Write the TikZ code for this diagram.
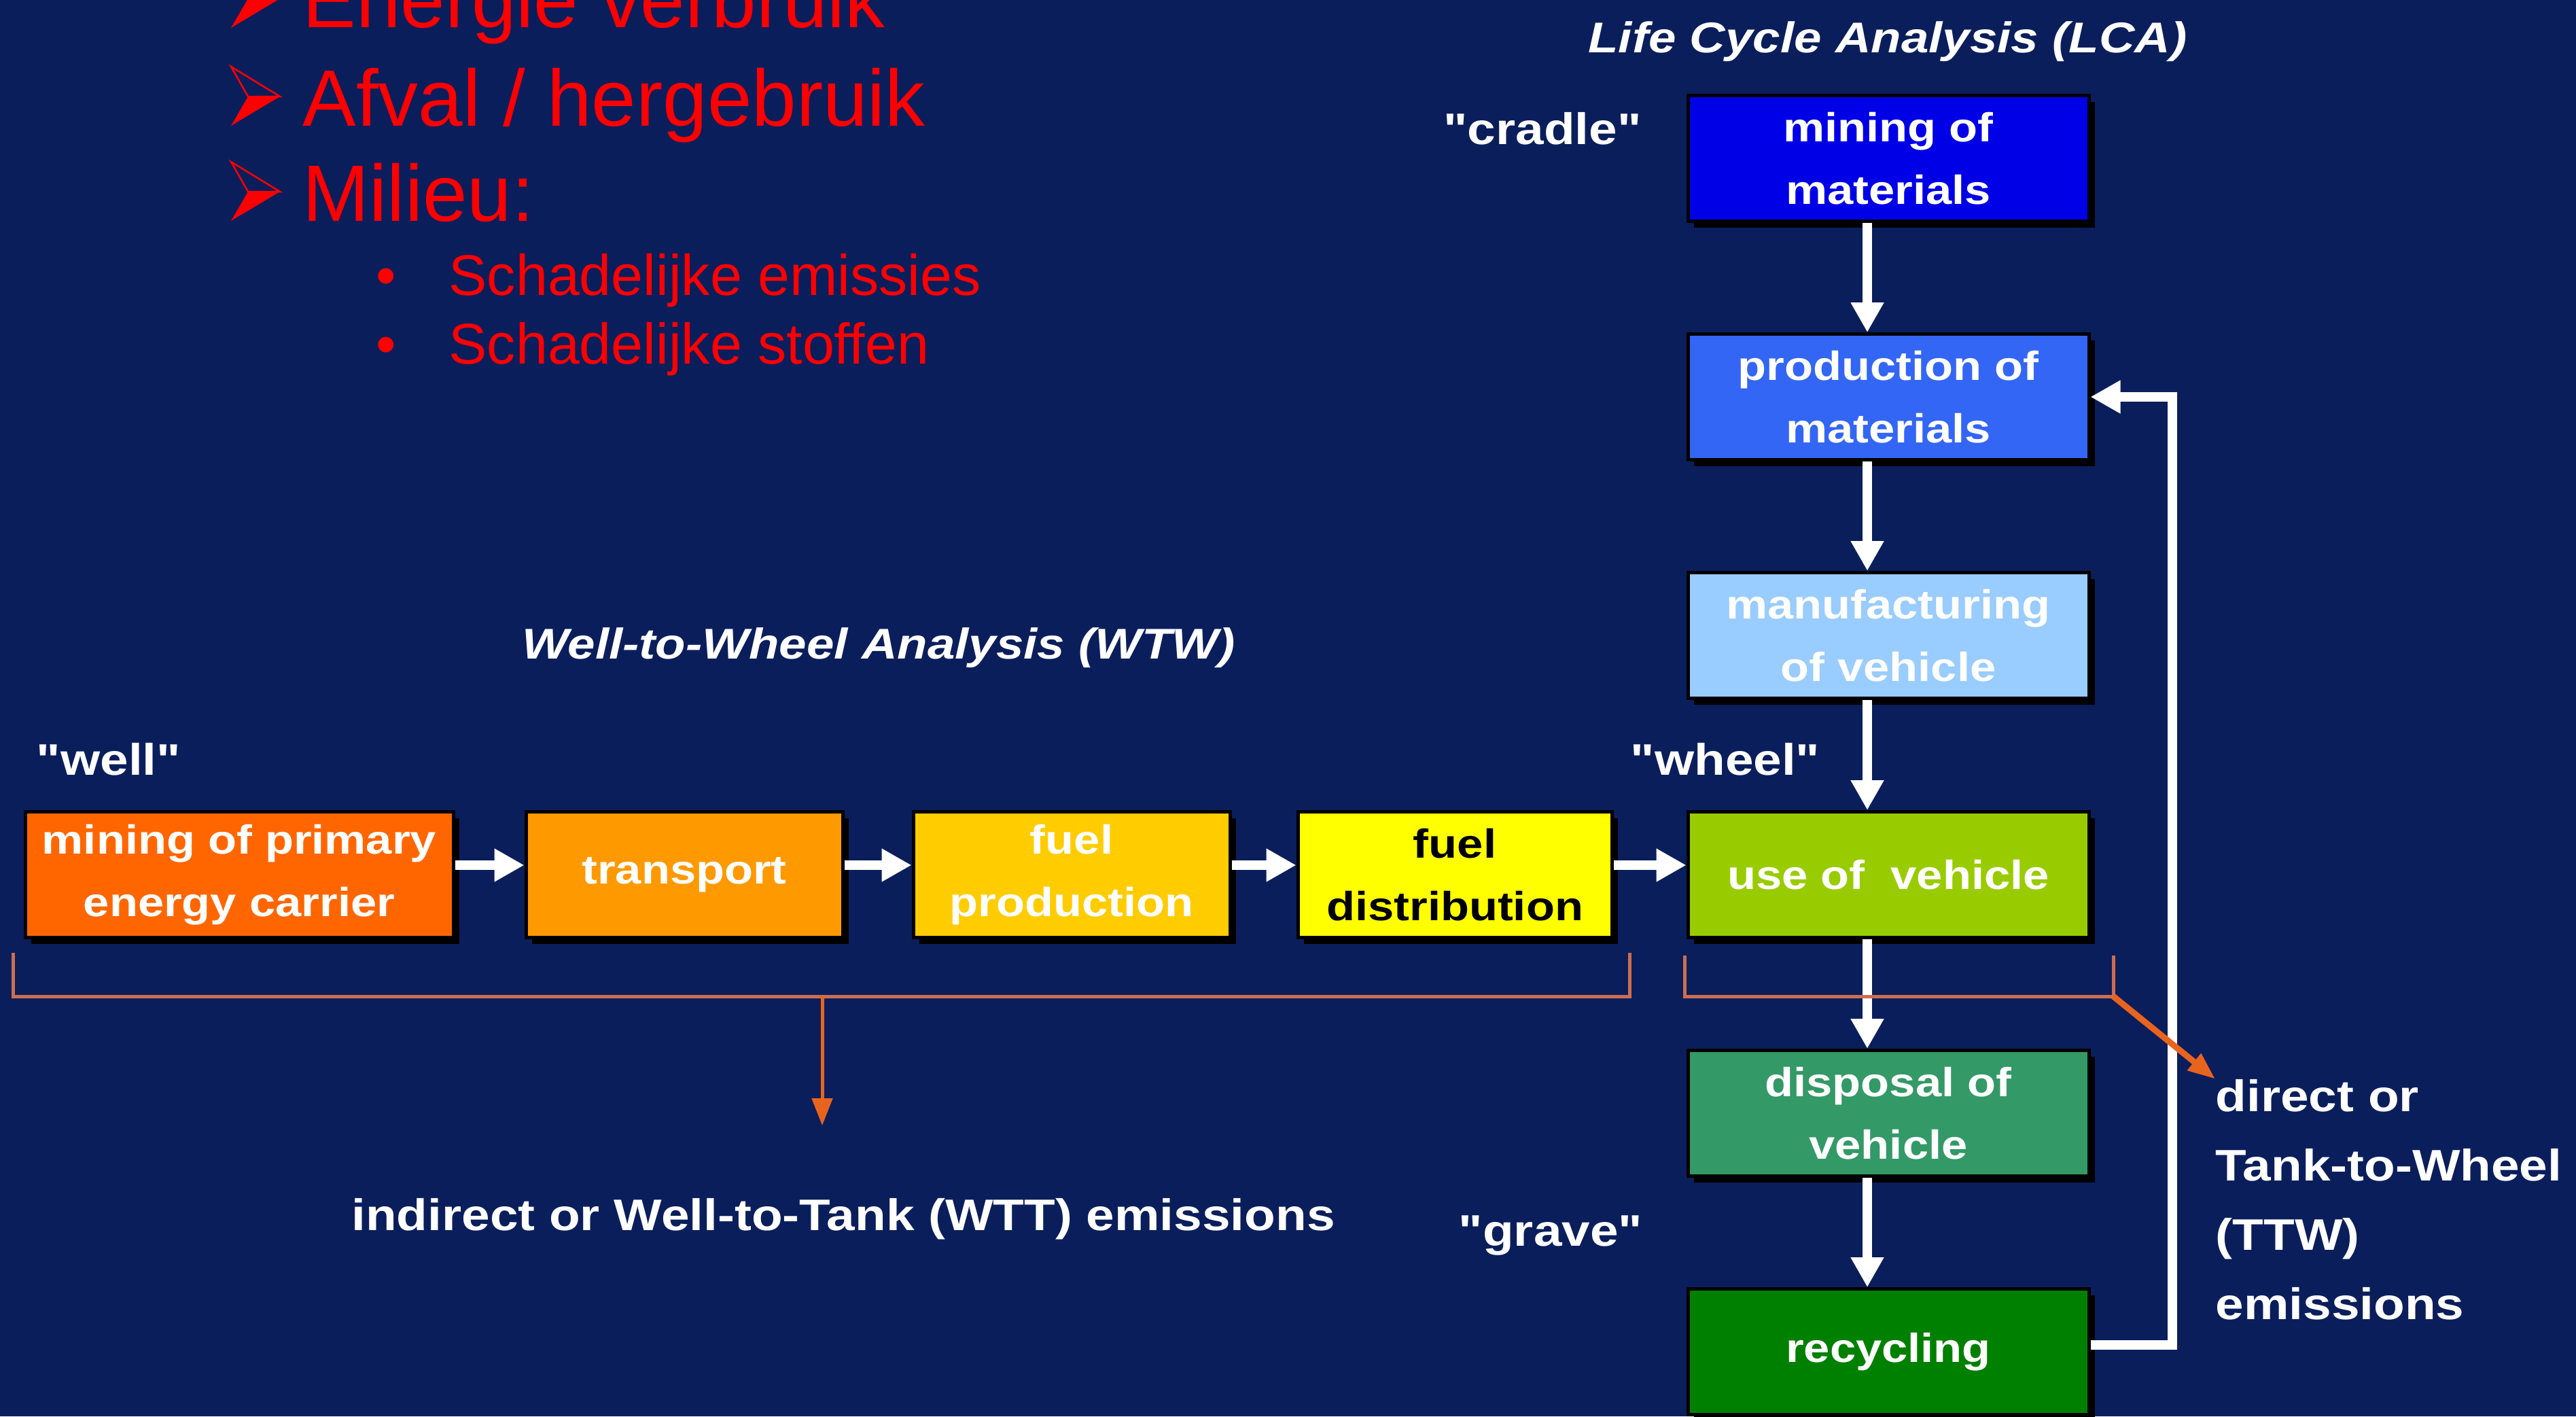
\documentclass[tikz,border=0pt]{standalone}
\usepackage{fontspec}
\setmainfont{Liberation Sans}
\newfontfamily\slidefont{Liberation Sans}[FakeStretch=1.15,Ligatures=TeXOff]
\usetikzlibrary{arrows.meta,shadows}

\definecolor{slidebg}{RGB}{11,30,92}
\definecolor{minecol}{RGB}{0,0,230}
\definecolor{prodcol}{RGB}{51,102,245}
\definecolor{manucol}{RGB}{153,204,255}
\definecolor{usecol}{RGB}{153,204,0}
\definecolor{dispcol}{RGB}{51,153,102}
\definecolor{recycol}{RGB}{0,128,0}
\definecolor{primcol}{RGB}{255,102,0}
\definecolor{transcol}{RGB}{255,153,0}
\definecolor{fuelcol}{RGB}{255,204,0}
\definecolor{distcol}{RGB}{255,255,0}
\definecolor{brackcol}{RGB}{205,110,80}
\definecolor{emisscol}{RGB}{232,100,30}

\tikzset{
  stage/.style={draw=black, line width=0.5mm, text=white, align=center,
    minimum height=1.85cm, inner sep=0pt,
    font=\slidefont\bfseries\fontsize{17}{26}\selectfont,
    drop shadow={shadow xshift=0.9mm, shadow yshift=-0.9mm, fill=black, opacity=1}},
  lcabox/.style={stage, minimum width=5.9cm},
  flow/.style={white, line width=1.4mm, -{Triangle[width=4.6mm,length=4.4mm]}},
  emission/.style={emisscol, line width=0.5mm, -{Triangle[width=3mm,length=4mm]}},
  bracket/.style={brackcol, line width=0.5mm},
  tag/.style={text=white, inner sep=0pt, font=\slidefont\bfseries\fontsize{18.5}{29}\selectfont},
  heading/.style={text=white, inner sep=0pt, font=\slidefont\bfseries\itshape\fontsize{18}{22}\selectfont},
  redline/.style={text=red, inner sep=0pt, anchor=base west, font=\fontsize{33.5}{40}\selectfont},
  redsub/.style={text=red, inner sep=0pt, anchor=base west, font=\fontsize{24}{30}\selectfont},
}

\begin{document}
\begin{tikzpicture}
\fill[slidebg] (0,0) rectangle (37.91,-20.84);
\useasboundingbox (0,0) rectangle (37.91,-20.84);
%%%%%%%%%%%%%%%%
\foreach \y in {-0.41,-1.85,-3.25} {
  \fill[red] (3.65,\y+0.43) -- (4.12,\y+0.43) -- (3.40,\y) -- cycle;
  \draw[red, line width=0.25mm] (3.40,\y+0.87) -- (4.12,\y+0.43) -- (3.65,\y+0.43) -- cycle;
}
\node[redline] (energie) at (4.45,-0.41) {Energie verbruik};
\node[redline] (afval) at (4.45,-1.85) {Afval / hergebruik};
\node[redline] (milieu) at (4.45,-3.25) {Milieu:};
\node[redsub] (emissies) at (5.53,-4.34) {\makebox[1.07cm][l]{•}Schadelijke emissies};
\node[redsub] (stoffen) at (5.53,-5.35) {\makebox[1.07cm][l]{•}Schadelijke stoffen};
%%%%%%%%%%%%%%%%
\node[heading, anchor=base] (lcatitle) at (27.78,-0.77) {Life Cycle Analysis (LCA)};
\node[lcabox, fill=minecol] (mine) at (27.79,-2.33) {mining of\\materials};
\node[lcabox, fill=prodcol] (prod) at (27.79,-5.84) {production of\\materials};
\node[lcabox, fill=manucol] (manu) at (27.79,-9.35) {manufacturing\\of vehicle};
\node[lcabox, fill=usecol] (usage) at (27.79,-12.87) {use of~~vehicle};
\node[lcabox, fill=dispcol] (disp) at (27.79,-16.38) {disposal of\\vehicle};
\node[lcabox, fill=recycol] (recyc) at (27.79,-19.89) {recycling};
\node[tag] (cradle) at (22.70,-1.89) {"cradle"};
\node[tag] (wheel) at (25.39,-11.17) {"wheel"};
\node[tag] (grave) at (22.82,-18.18) {"grave"};
%%%%%%%%%%%%%%%%
\node[heading, anchor=base] (wtwtitle) at (12.93,-9.69) {Well-to-Wheel Analysis (WTW)};
\node[tag] (well) at (1.60,-11.17) {"well"};
\node[stage, fill=primcol, minimum width=6.3cm] (prim) at (3.52,-12.87) {mining of primary\\energy carrier};
\node[stage, fill=transcol, minimum width=4.66cm] (trans) at (10.07,-12.87) {transport};
\node[stage, fill=fuelcol, minimum width=4.66cm] (fuel) at (15.77,-12.87) {fuel\\production};
\node[stage, fill=distcol, text=black, minimum width=4.62cm] (dist) at (21.41,-12.87) {fuel\\distribution};
%%%%%%%%%%%%%%%%
\draw[flow] ([yshift=1.4mm]prim.east) -- ([yshift=1.4mm]trans.west);
\draw[flow] ([yshift=1.4mm]trans.east) -- ([yshift=1.4mm]fuel.west);
\draw[flow] ([yshift=1.4mm]fuel.east) -- ([yshift=1.4mm]dist.west);
\draw[flow] ([yshift=1.4mm]dist.east) -- ([yshift=1.4mm]usage.west);
\draw[flow] ([xshift=-3.1mm]mine.south) -- ([xshift=-3.1mm]prod.north);
\draw[flow] ([xshift=-3.1mm]prod.south) -- ([xshift=-3.1mm]manu.north);
\draw[flow] ([xshift=-3.1mm]manu.south) -- ([xshift=-3.1mm]usage.north);
\draw[flow] ([xshift=-3.1mm]usage.south) -- ([xshift=-3.1mm]disp.north);
\draw[flow] ([xshift=-3.1mm]disp.south) -- ([xshift=-3.1mm]recyc.north);
\coordinate (loop) at (31.97,-5.84);
\draw[flow] ([yshift=1mm]recyc.east) -| (loop) -- (prod.east);
%%%%%%%%%%%%%%%%
\node[tag] (wtt) at (12.41,-17.94) {indirect or Well-to-Tank (WTT) emissions};
\node[tag, align=left, anchor=west] (ttw) at (32.60,-17.65) {direct or\\Tank-to-Wheel\\(TTW)\\emissions};
\coordinate (wtwL) at (0.19,-14.02);
\coordinate (wtwR) at (23.98,-14.02);
\coordinate (ttwL) at (24.79,-14.06);
\coordinate (ttwR) at (31.10,-14.06);
\draw[bracket] (wtwL) -- ++(0,-0.64) -| (wtwR);
\draw[bracket] (ttwL) -- ++(0,-0.60) -| (ttwR);
\coordinate (wttfoot) at (12.10,-14.66);
\coordinate (wtttip) at (12.10,-16.56);
\coordinate (ttwfoot) at (31.10,-14.66);
\draw[emission] (wttfoot) -- (wtttip);
\draw[emission, line width=0.9mm] (ttwfoot) -- (ttw.north west);
\end{tikzpicture}
\end{document}
